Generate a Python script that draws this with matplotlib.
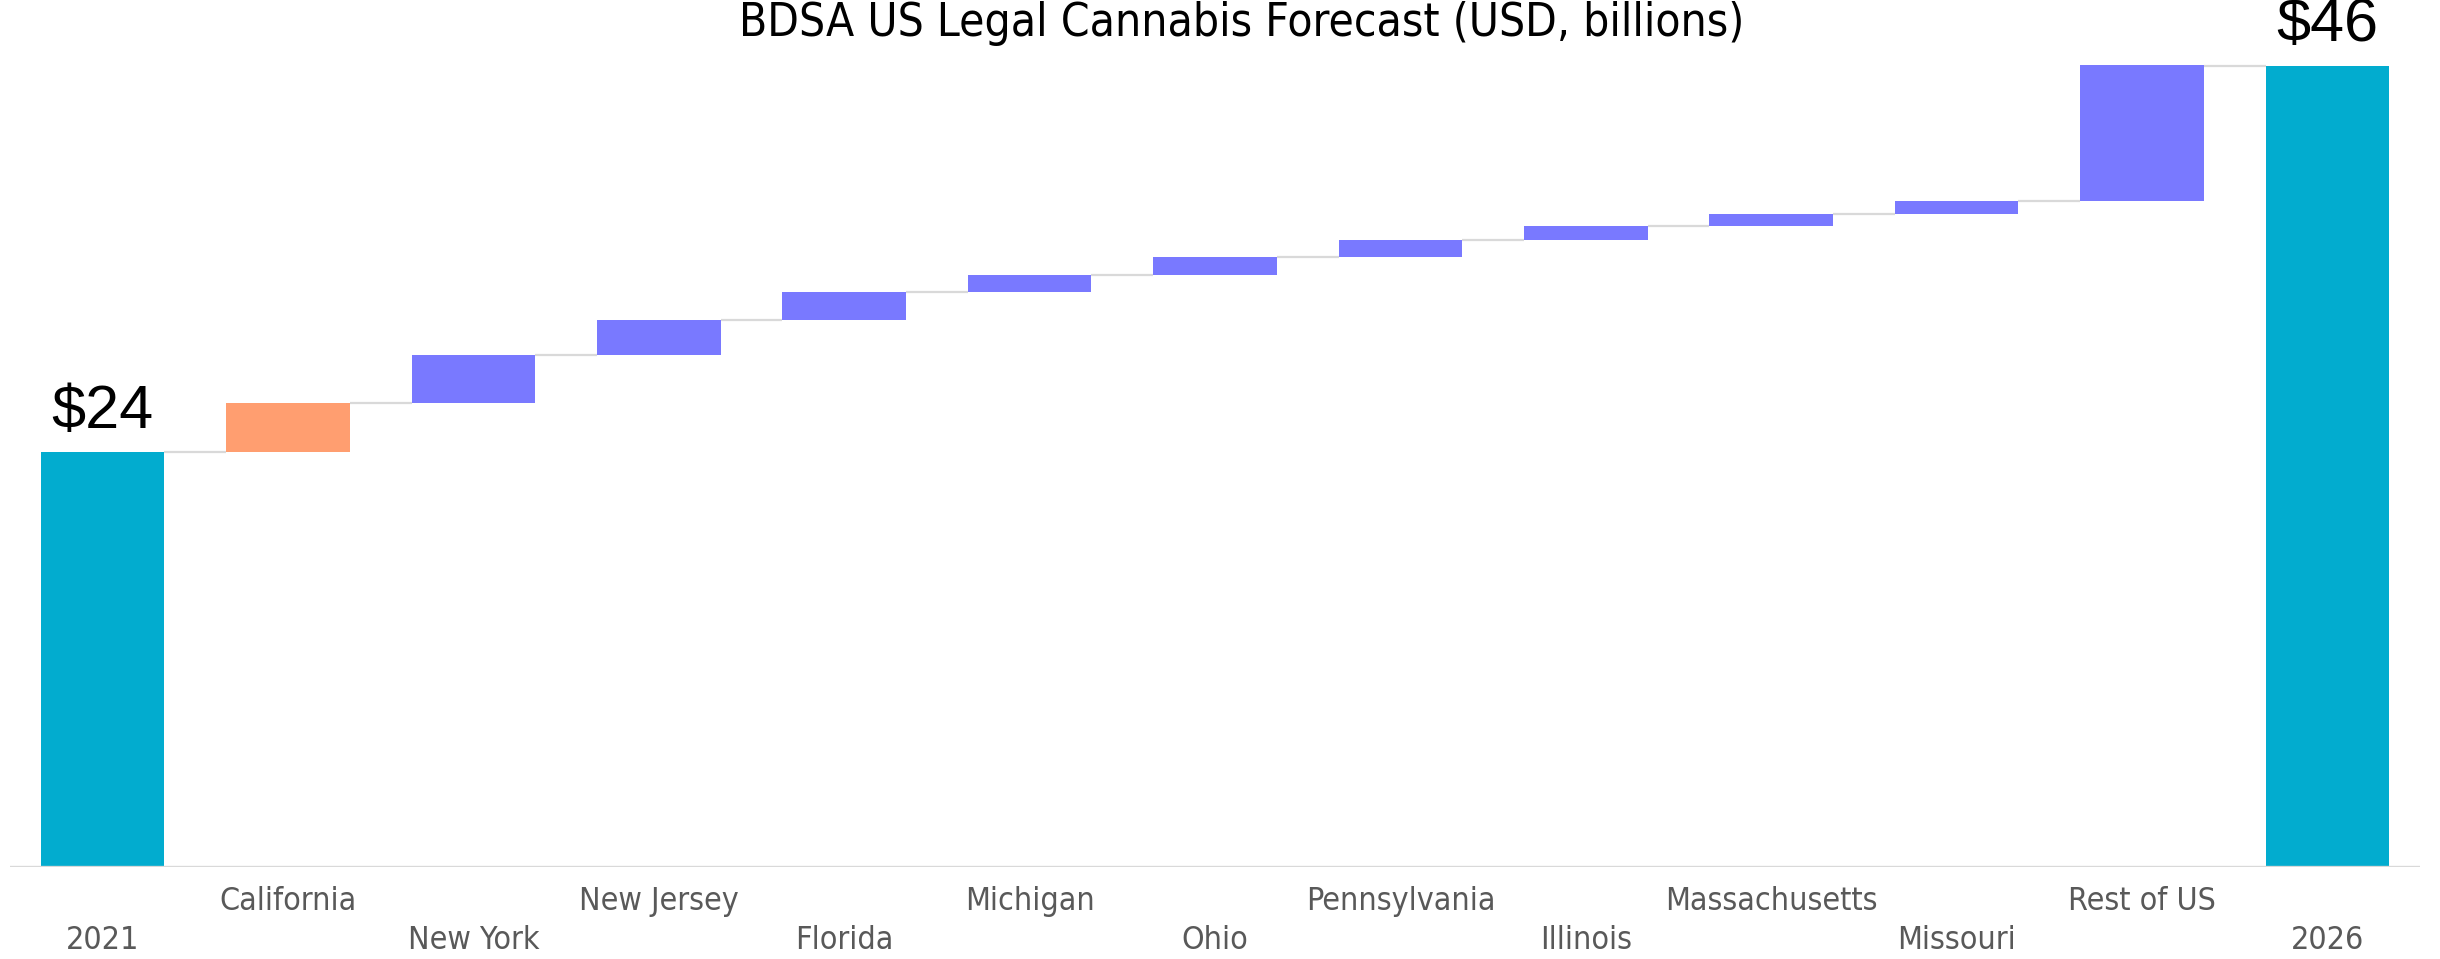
import numpy as np
import matplotlib
matplotlib.use("Agg")
import matplotlib.pyplot as plt

# values (USD billions)
categories = ["2021", "California", "New York", "New Jersey", "Florida", "Michigan",
              "Ohio", "Pennsylvania", "Illinois", "Massachusetts", "Missouri",
              "Rest of US", "2026"]
start_total = 23.8
deltas = [2.8, 2.8, 2.0, 1.6, 1.0, 1.0, 1.0, 0.8, 0.7, 0.7, 7.8]
end_total = 46.0
total_labels = ["$24", "$46"]

TEAL = "#02ACCF"
ORANGE = "#FF9E70"
PURPLE = "#7979FF"
GRID = "#D9D9D9"
NARROW = ["Liberation Sans Narrow", "DejaVu Sans"]

fig = plt.figure(figsize=(24.4, 9.59), dpi=100)
ax = fig.add_axes([10 / 2440, 92.3 / 959, 2410 / 2440, 866.7 / 959])

x = np.arange(len(categories))
width = 0.666

# running totals
levels = np.concatenate([[start_total], start_total + np.cumsum(deltas)])
bottoms = np.concatenate([[0], levels[:-1], [0]])
heights = np.concatenate([[start_total], deltas, [end_total]])
colors = [TEAL, ORANGE] + [PURPLE] * (len(deltas) - 1) + [TEAL]

ax.bar(x, heights, width, bottom=bottoms, color=colors, linewidth=0, zorder=2)

# connectors between consecutive bars
tops = bottoms + heights
for i in range(len(categories) - 1):
    ax.plot([x[i] + width / 2, x[i + 1] - width / 2], [tops[i], tops[i]],
            color=GRID, lw=1.6, zorder=1, solid_capstyle="butt")

# total labels
for i, lab in zip([0, len(categories) - 1], total_labels):
    ax.annotate(lab, (x[i], heights[i]), xytext=(0, 8), textcoords="offset points",
                ha="center", va="bottom", fontsize=44,
                family=["Liberation Sans", "DejaVu Sans"], color="black")

# staggered category labels
xt = ax.get_xaxis_transform()
for i, name in enumerate(categories):
    yy = -0.0407 if i % 2 == 1 else -0.0846
    ax.text(x[i], yy, name, transform=xt, ha="center", va="center",
            fontsize=23, family=NARROW, stretch="condensed", color="#595959")

ax.set_xlim(-0.5, len(categories) - 0.5)
ax.set_ylim(0, 866.7 / (801.2 / end_total))
ax.axhline(0, color=GRID, lw=2.4, zorder=3)
for s in ax.spines.values():
    s.set_visible(False)
ax.set_xticks([])
ax.set_yticks([])

fig.text(1242 / 2440, 1 - 36 / 959, "BDSA US Legal Cannabis Forecast (USD, billions)",
         ha="center", va="baseline", fontsize=33, family=NARROW, stretch="condensed",
         color="black")

fig.savefig("out.png", dpi=100)
